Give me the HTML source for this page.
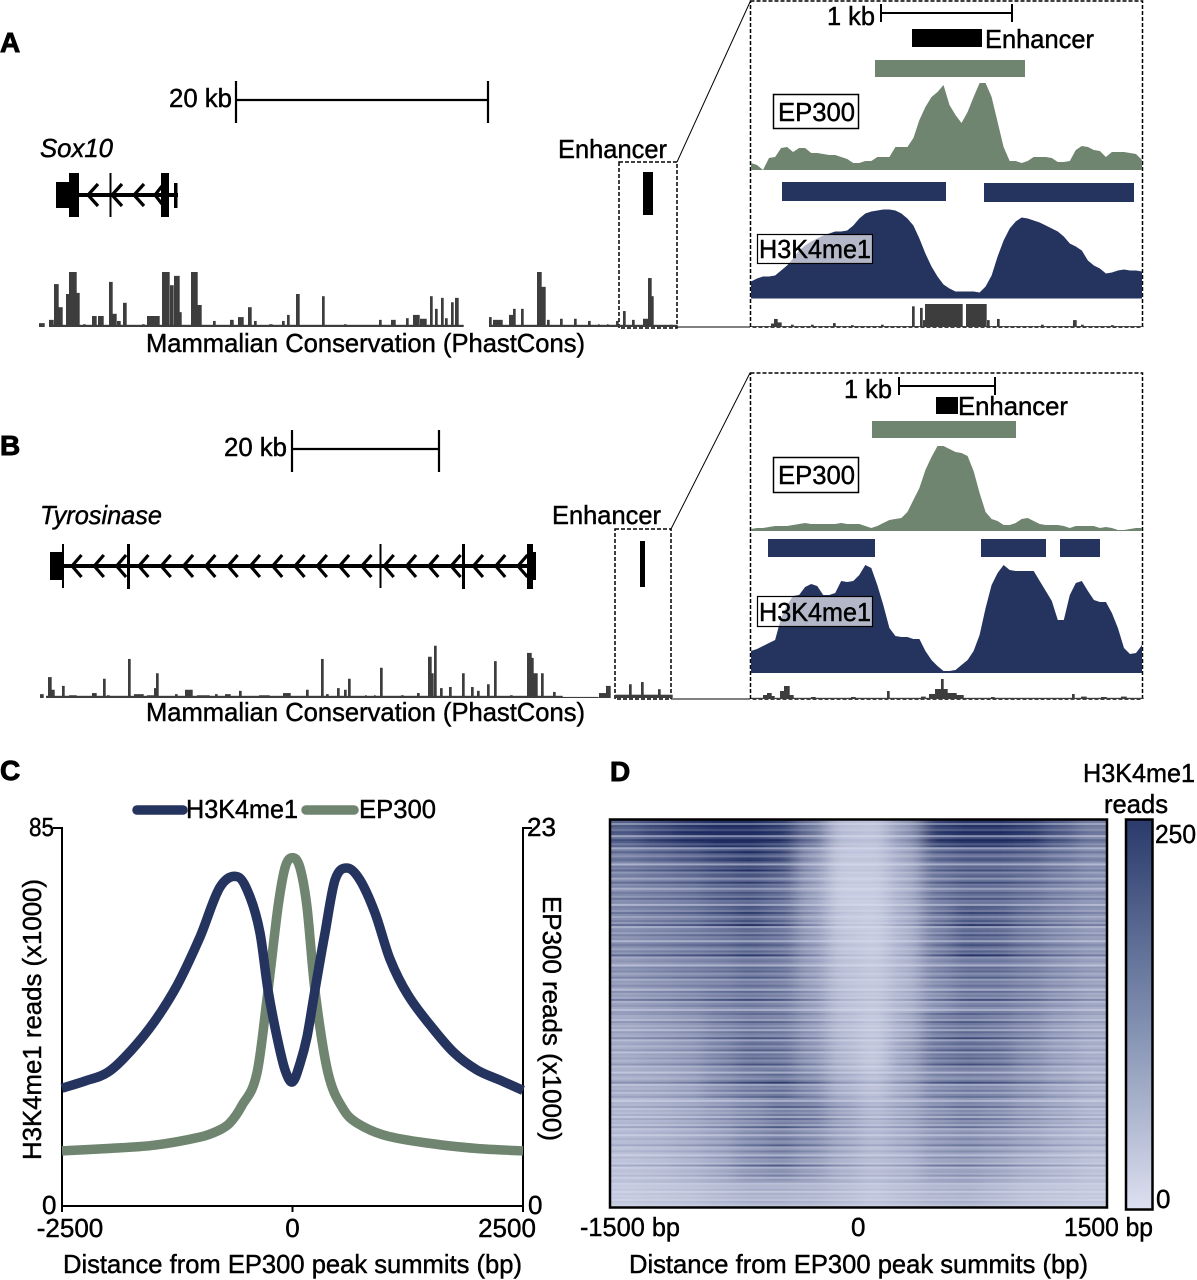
<!DOCTYPE html>
<html lang="en">
<head>
<meta charset="utf-8">
<title>Enhancer chromatin signatures figure</title>
<style>
html,body{margin:0;padding:0;background:#fff;}
svg{display:block;}
text{font-family:"Liberation Sans",Arial,sans-serif;font-size:26px;fill:#000;stroke:#000;stroke-width:.45px;}
.panel{font-size:28px;font-weight:bold;stroke-width:.9px;}
.it{font-style:italic;}
</style>
</head>
<body>
<svg id="fig" xmlns="http://www.w3.org/2000/svg" width="1197" height="1280" viewBox="0 0 1197 1280">
<defs>
<linearGradient id="cbar" x1="0" y1="0" x2="0" y2="1">
<stop offset="0" stop-color="#2a3a6b"/><stop offset=".5" stop-color="#7c8bad"/><stop offset="1" stop-color="#dde0f0"/>
</linearGradient>
<filter id="hblur" filterUnits="userSpaceOnUse" x="500" y="800" width="720" height="430"><feGaussianBlur stdDeviation="9 0"/></filter>
<clipPath id="heatclip"><rect x="611" y="820" width="495" height="387"/></clipPath>
</defs>

<text class="panel" x="0" y="52">A</text>
<text class="panel" x="0" y="455">B</text>
<text class="panel" x="0" y="780">C</text>
<text class="panel" x="610" y="781">D</text>

<!-- Panel A static -->
<g>
<text x="169" y="107" textLength="63" lengthAdjust="spacingAndGlyphs">20 kb</text>
<path d="M236 100H488M236 81V123M488 81V123" stroke="#000" stroke-width="2.200" fill="none"/>
<text class="it" x="40" y="157" textLength="73" lengthAdjust="spacingAndGlyphs">Sox10</text>
<text x="558" y="158" textLength="109" lengthAdjust="spacingAndGlyphs">Enhancer</text>
<g id="geneA">
<rect x="56" y="182" width="14" height="26" fill="#000"/><rect x="69" y="173" width="10" height="44" fill="#000"/>
<rect x="79" y="193" width="99" height="4" fill="#000"/>
<rect x="109.500" y="173" width="2" height="44" fill="#000"/><rect x="161" y="173" width="8" height="44" fill="#000"/><rect x="174" y="183" width="3.500" height="25" fill="#000"/>
<path d="M98 184L88 195L98 206M122 184L112 195L122 206M144 184L134 195L144 206M162 186L155 195L162 204" stroke="#000" stroke-width="3.200" fill="none"/>
</g>
<rect x="643" y="172" width="10" height="43" fill="#000"/>
<rect x="619" y="162" width="58" height="166" fill="none" stroke="#000" stroke-width="1.500" stroke-dasharray="4 2"/>
<path d="M677 162L750 2M677 327H750" stroke="#000" stroke-width="1" fill="none"/>
<g id="consA"></g>
<text x="146" y="352" textLength="439" lengthAdjust="spacingAndGlyphs">Mammalian Conservation (PhastCons)</text>
</g>

<!-- Inset A -->
<g>
<rect x="750.500" y="1" width="392" height="326" fill="none" stroke="#000" stroke-width="1.500" stroke-dasharray="4 2"/>
<text x="827" y="25" textLength="48" lengthAdjust="spacingAndGlyphs">1 kb</text>
<path d="M881 13H1012M881 4V22M1012 4V22" stroke="#000" stroke-width="2" fill="none"/>
<rect x="912" y="29" width="70" height="18" fill="#000"/>
<text x="985" y="48" textLength="109" lengthAdjust="spacingAndGlyphs">Enhancer</text>
<rect x="875" y="60" width="150" height="17" fill="#6f8570"/>
<g id="epA"></g>
<rect x="773.500" y="94.500" width="85" height="34" fill="#fff" stroke="#000" stroke-width="1.500"/>
<text x="778" y="121" textLength="77" lengthAdjust="spacingAndGlyphs">EP300</text>
<rect x="782" y="182" width="164" height="19" fill="#25335f"/>
<rect x="984" y="183" width="150" height="19" fill="#25335f"/>
<g id="meA"></g>
<rect x="757.500" y="234.500" width="115" height="29" fill="#fff" fill-opacity=".65" stroke="#000" stroke-width="1.200"/>
<text x="759" y="258" textLength="112" lengthAdjust="spacingAndGlyphs">H3K4me1</text>
<g id="cinA"></g>
</g>

<!-- Panel B static -->
<g>
<text x="224" y="456" textLength="63" lengthAdjust="spacingAndGlyphs">20 kb</text>
<path d="M292 449H439M292 430V472M439 430V472" stroke="#000" stroke-width="2.200" fill="none"/>
<text class="it" x="40" y="524" textLength="122" lengthAdjust="spacingAndGlyphs">Tyrosinase</text>
<text x="552" y="524" textLength="109" lengthAdjust="spacingAndGlyphs">Enhancer</text>
<g id="geneB">
<rect x="50" y="552" width="13" height="28" fill="#000"/><rect x="62" y="544" width="2" height="44" fill="#000"/>
<rect x="63" y="564" width="464" height="4" fill="#000"/>
<rect x="127" y="544" width="3" height="45" fill="#000"/><rect x="379.500" y="544" width="2" height="44" fill="#000"/><rect x="462" y="544" width="3" height="45" fill="#000"/>
<rect x="527" y="544" width="6" height="45" fill="#000"/><rect x="532" y="552" width="4" height="28" fill="#000"/>
</g>
<rect x="640" y="541" width="5" height="46" fill="#000"/>
<rect x="615" y="529" width="56" height="170" fill="none" stroke="#000" stroke-width="1.500" stroke-dasharray="4 2"/>
<path d="M671 529L750 373M671 699H750" stroke="#000" stroke-width="1" fill="none"/>
<g id="consB"></g>
<text x="146" y="721" textLength="439" lengthAdjust="spacingAndGlyphs">Mammalian Conservation (PhastCons)</text>
</g>

<!-- Inset B -->
<g>
<rect x="750.500" y="373" width="392" height="326" fill="none" stroke="#000" stroke-width="1.500" stroke-dasharray="4 2"/>
<text x="844" y="398" textLength="48" lengthAdjust="spacingAndGlyphs">1 kb</text>
<path d="M899 386H995M899 377V395M995 377V395" stroke="#000" stroke-width="2" fill="none"/>
<rect x="936" y="397" width="22" height="17" fill="#000"/>
<text x="958" y="415" textLength="110" lengthAdjust="spacingAndGlyphs">Enhancer</text>
<rect x="872" y="421" width="144" height="17" fill="#6f8570"/>
<g id="epB"></g>
<rect x="773.500" y="457.500" width="85" height="35" fill="#fff" stroke="#000" stroke-width="1.500"/>
<text x="778" y="484" textLength="77" lengthAdjust="spacingAndGlyphs">EP300</text>
<rect x="768" y="539" width="107" height="18" fill="#25335f"/>
<rect x="981" y="539" width="65" height="18" fill="#25335f"/>
<rect x="1060" y="539" width="40" height="18" fill="#25335f"/>
<g id="meB"></g>
<rect x="757.500" y="596.500" width="115" height="30" fill="#fff" fill-opacity=".65" stroke="#000" stroke-width="1.200"/>
<text x="759" y="621" textLength="112" lengthAdjust="spacingAndGlyphs">H3K4me1</text>
<g id="cinB"></g>
</g>

<!-- Panel C -->
<g>
<line x1="137" y1="810" x2="183" y2="810" stroke="#25335f" stroke-width="9.500" stroke-linecap="round"/>
<text x="186" y="818" textLength="112" lengthAdjust="spacingAndGlyphs">H3K4me1</text>
<line x1="306" y1="810" x2="354" y2="810" stroke="#6f8570" stroke-width="9.500" stroke-linecap="round"/>
<text x="359" y="818" textLength="77" lengthAdjust="spacingAndGlyphs">EP300</text>
<path d="M53 828H62V1206H523V828H532M292.500 1206V1212M62 1200V1212M523 1200V1212" fill="none" stroke="#000" stroke-width="2"/>
<text x="29" y="836" textLength="25" lengthAdjust="spacingAndGlyphs">85</text>
<text x="42" y="1214">0</text>
<text x="527" y="836" textLength="29" lengthAdjust="spacingAndGlyphs">23</text>
<text x="528" y="1214">0</text>
<g id="xticks"></g>
<text x="63" y="1273" textLength="459" lengthAdjust="spacingAndGlyphs">Distance from EP300 peak summits (bp)</text>
<text transform="translate(41 1160) rotate(-90)" textLength="281" lengthAdjust="spacingAndGlyphs">H3K4me1 reads (x1000)</text>
<text transform="translate(543 896) rotate(90)" textLength="245" lengthAdjust="spacingAndGlyphs">EP300 reads (x1000)</text>
<g id="lines"></g>
</g>

<!-- Panel D -->
<g>
<g clip-path="url(#heatclip)"><g id="heat" filter="url(#hblur)"></g></g>
<rect x="610" y="819.500" width="497" height="388" fill="none" stroke="#000" stroke-width="2.500"/>
<rect x="1126" y="819.500" width="26.500" height="390" fill="url(#cbar)" stroke="#000" stroke-width="2.500"/>
<text x="1083" y="782" textLength="112" lengthAdjust="spacingAndGlyphs">H3K4me1</text>
<text x="1104" y="813" textLength="64" lengthAdjust="spacingAndGlyphs">reads</text>
<text x="1155" y="843" textLength="41" lengthAdjust="spacingAndGlyphs">250</text>
<text x="1156" y="1208">0</text>
<text x="580" y="1236" textLength="100" lengthAdjust="spacingAndGlyphs">-1500 bp</text>
<text x="851" y="1236">0</text>
<text x="1064" y="1236" textLength="89" lengthAdjust="spacingAndGlyphs">1500 bp</text>
<text x="629" y="1273" textLength="459" lengthAdjust="spacingAndGlyphs">Distance from EP300 peak summits (bp)</text>
</g>
</svg>

<script>
// ---------- Conservation tracks: genomic bin ranges and phastCons scores ----------
const sox10ConsStart = [0,10,10,15,19,27,30,37,44,53,59,70,73,78,84,103,108,123,131,135,140,152,158,174,191,199,209,215,230,243,248,257,283,305,340,352,367,374,381,391,396,402,406,412,416,450,450,454,470,474,482,498,502,508,521,535,549,559,568,577,584,593,604,609,612,631];
const sox10ConsEnd = [5,424,14,19,23,30,37,40,46,57,64,73,77,81,87,105,120,130,134,140,142,158,162,176,194,204,212,217,233,245,250,260,285,307,342,356,369,380,387,393,398,404,408,414,419,638,452,463,474,476,484,502,506,510,523,537,551,560,569,579,586,595,609,612,614,633];
const sox10ConsScore = [.07,.04,.13,.78,.36,.6,1,.62,.05,.2,.2,.82,.24,.11,.44,.05,.2,1,.76,.93,.27,1,.4,.11,.13,.18,.36,.11,.05,.11,.22,.6,.56,.05,.13,.13,.16,.22,.15,.56,.33,.53,.16,.45,.53,.04,.18,.13,.22,.33,.33,1,.73,.13,.15,.15,.11,.05,.05,.11,.29,.13,.15,.89,.56,.04];
const tyrConsStart = [1,7,9,12,23,30,53,64,68,89,95,108,115,117,136,146,158,176,186,200,220,244,267,282,287,298,305,309,326,335,341,362,378,389,392,395,401,410,423,432,438,448,455,471,488,492,494,502,514,523,560,567,576,590,602,619];
const tyrConsEnd = [4,523,12,15,25,37,57,66,70,91,104,115,117,119,138,153,170,178,191,202,230,251,269,284,289,300,307,311,327,336,343,364,380,392,394,397,403,412,425,434,440,450,457,473,492,494,498,504,516,559,567,571,633,592,604,621];
const tyrConsScore = [.07,.04,.38,.15,.22,.05,.09,.35,.05,.71,.07,.05,.18,.45,.07,.15,.05,.07,.07,.13,.05,.09,.15,.71,.07,.18,.15,.35,.05,.05,.55,.05,.09,.75,.45,.95,.18,.2,.45,.2,.13,.25,.67,.05,.82,.73,.45,.45,.11,.02,.09,.22,.06,.25,.29,.16];
const insetConsStartA = [0,20,23,26,40,60,82,100,130,161,169,172,174,215,236,246,290,322,330,360];
const insetConsEndA = [392,23,26,30,42,62,84,102,132,163,171,174,211,235,238,248,292,325,332,362];
const insetConsScoreA = [.04,.15,.35,.2,.1,.1,.17,.08,.1,.9,.83,.3,1,1,.3,.35,.1,.3,.1,.08];
const insetConsStartB = [0,12,16,20,29,33,38,60,100,136,170,178,184,190,196,205,240,321,330,350,370];
const insetConsEndB = [392,16,20,23,33,38,42,64,104,138,174,184,196,192,205,212,243,323,335,355,375];
const insetConsScoreB = [.06,.2,.3,.15,.4,.65,.2,.1,.1,.4,.12,.25,.5,1,.3,.2,.1,.25,.12,.1,.12];

// ---------- Inset read coverage, 66 evenly spaced genomic bins ----------
const ep300SignalA = [7,5,0,12,13,22,23,18,22,22,17,17,16,15,15,13,11,7,7,9,9,13,13,13,23,23,23,32,50,63,73,78,85,65,55,47,58,73,87,87,73,48,23,9,9,7,9,13,13,13,12,8,8,9,20,24,23,20,19,13,18,18,18,17,16,10];
const h3k4me1SignalA = [17,20,22,22,23,28,33,40,48,53,57,60,63,65,67,67,68,73,80,85,87,88,89,89,88,85,80,73,60,45,32,22,14,10,7,7,7,7,6,12,23,42,58,70,77,81,80,78,76,73,70,67,62,55,52,48,38,33,30,25,26,28,29,28,28,27];
const ep300SignalB = [2,3,3,4,5,5,5,6,7,8,7,7,7,7,7,8,7,7,7,5,3,5,8,11,12,13,19,31,43,61,74,85,85,82,79,78,75,60,38,19,12,10,6,6,8,12,13,10,7,6,6,6,5,3,5,5,5,5,3,4,3,1,1,2,3,3];
const h3k4me1SignalB = [22,24,27,30,33,55,68,77,78,86,89,87,78,78,80,92,91,92,98,108,105,88,68,45,37,36,36,34,34,22,13,7,2,2,3,8,13,22,38,65,88,100,108,103,102,102,102,102,92,82,72,53,53,78,90,92,82,73,71,71,60,45,25,19,20,28];

// ---------- Panel C aggregate profile ----------
const h3k4me1Bp = [-2500,-2250,-2000,-1750,-1500,-1250,-1003,-786,-591,-461,-352,-266,-168,-81,0,81,157,244,352,461,591,732,895,1057,1250,1500,1750,2000,2250,2500];
const h3k4me1Reads = [26.5,28.1,30.1,35,41.4,49.7,60.5,71.7,74,69.5,61.4,48.6,38,30.6,27.9,32,38,48.6,61.4,73.3,76,73.3,65.9,55.5,47.5,40.5,34.5,30.6,28.3,26];
const ep300Bp = [-2500,-2000,-1500,-1000,-800,-680,-550,-385,-266,-157,-80,0,80,157,244,385,550,700,1000,1500,2000,2500];
const ep300Reads = [3.35,3.5,3.7,4.2,4.6,5.05,6.1,8.1,13.1,18.2,20.6,21.2,20.6,18.2,13.1,8.1,5.9,5.05,4.3,3.8,3.5,3.35];
const xTickLabels = ["-2500","0","2500"];
const xTickValues = [-2500,0,2500];

// ---------- Panel D heatmap: intensity per region group and column, plus per-row gain ----------
const heatBands = [
 [.62,.72,.80,.86,.86,.78,.50,.16,.14,.34,.76,.82,.82,.76,.62,.48],
 [.50,.56,.62,.70,.76,.68,.36,.12,.12,.26,.56,.62,.62,.58,.50,.42],
 [.46,.50,.54,.62,.66,.58,.32,.10,.10,.24,.52,.60,.60,.54,.46,.40],
 [.44,.48,.52,.60,.68,.58,.34,.12,.10,.24,.50,.64,.62,.52,.44,.38],
 [.42,.46,.50,.54,.60,.54,.34,.14,.10,.22,.48,.62,.60,.50,.42,.36],
 [.38,.42,.46,.50,.56,.52,.34,.16,.12,.22,.44,.54,.54,.48,.40,.34],
 [.34,.38,.42,.48,.52,.48,.34,.16,.12,.22,.40,.50,.50,.44,.36,.30],
 [.30,.34,.38,.46,.52,.50,.36,.18,.12,.26,.50,.56,.52,.44,.34,.28],
 [.28,.32,.36,.46,.56,.54,.38,.20,.12,.30,.52,.58,.54,.42,.32,.26],
 [.26,.28,.32,.42,.50,.54,.42,.24,.16,.28,.44,.48,.46,.38,.30,.24],
 [.22,.24,.28,.34,.42,.50,.46,.30,.20,.28,.40,.46,.42,.34,.28,.22],
 [.20,.22,.26,.32,.42,.48,.40,.28,.20,.26,.36,.40,.36,.30,.24,.20],
 [.16,.18,.22,.28,.38,.42,.34,.24,.18,.22,.32,.34,.30,.24,.20,.16],
 [.12,.14,.16,.20,.24,.24,.22,.18,.14,.18,.22,.24,.20,.16,.14,.12]
];
const rowGain = [1.3,1.15,.7,1.2,1.1,.95,1.25,1.2,.55,1.0,1.3,1.15,.9,1.1,.6,1.05,1.35,1.0,.85,1.2,1.25,.95,.5,1.1,1.0,1.3,.8,1.05,1.2,.7,1.0,1.4,.95,1.1,.6,.9,1.2,1.05,.85,1.3,.95,1.0,.55,1.15,1.1,.9,1.35,1.05,.75,1.0,1.2,.9,1.45,.6,1.0,1.1,.85,1.25,.95,1.05,.55,1.1,1.3,1.0,.8,1.15,.95,1.55,.7,1.0,1.1,.9,.5,1.2,1.05,1.25,.85,1.0,1.35,.7,1.0,.9,1.15,1.05,.6,1.3,.95,1.1,.85,1.6,.75,1.0,1.15,.9,.55,1.1,1.25,.95,1.0,.7,1.35,1.05,.85,1.1,.6,1.2,1.0,.9,1.5,.65,1.05,1.15,.8,1.0,1.3,.6,1.1,.95,1.2,.85,1.0,1.4,.7,.95,1.1,.55,1.25,1.0,.85,1.15,1.7,.6,1.0,.9,1.2,.7,1.05,1.3,.9,.55,1.1,1.0,1.45,.75,1.05,.9,1.2,.65,1.35,.95,1.1,.8,1.6,.7,1.0,1.15,.55,1.05,1.25,.9,1.0,1.5,.7,.85,1.2,1.0,.6,1.4,.95,1.05,.75,1.8,.65,1.0,1.1,.85,1.3,.6,1.0,1.5,.75,1.0,.9,1.2,.6,1.1,.85,1.0,.7,1.15,.9,.65];

const NS = "http://www.w3.org/2000/svg";
function mk(tag, parent, attrs) {
  const el = document.createElementNS(NS, tag);
  for (const k in attrs) el.setAttribute(k, attrs[k]);
  parent.appendChild(el);
  return el;
}
const $ = id => document.getElementById(id);

// Conservation bars
function drawCons(parent, starts, ends, scores, originX, baseY, fullHeight) {
  const xScale = b => originX + b;
  const yScale = s => baseY - s * fullHeight;
  starts.forEach((s, i) => {
    const bar = mk("rect", parent, {x: xScale(s), y: yScale(scores[i]), width: xScale(ends[i]) - xScale(s) + .7, height: baseY - yScale(scores[i]), fill: "#3d3d3d"});
    
    
  });
}
drawCons($("consA"), sox10ConsStart, sox10ConsEnd, sox10ConsScore, 39, 327, 55);
drawCons($("consB"), tyrConsStart, tyrConsEnd, tyrConsScore, 39, 698, 55);
drawCons($("cinA"), insetConsStartA, insetConsEndA, insetConsScoreA, 751, 327, 23);
drawCons($("cinB"), insetConsStartB, insetConsEndB, insetConsScoreB, 751, 699, 20);

// Inset signal areas
function drawSignal(parent, values, baseY, color) {
  const binX = i => 751 + i * 391 / (values.length - 1);
  const y = v => baseY - v;
  let d = "M" + binX(0) + " " + baseY;
  values.forEach((v, i) => { d += "L" + binX(i).toFixed(1) + " " + y(v).toFixed(1); });
  d += "L" + binX(values.length - 1) + " " + baseY + "Z";
  const area = mk("path", parent, {d: d, fill: color});
  
  
}
drawSignal($("epA"), ep300SignalA, 170, "#6f8570");
drawSignal($("meA"), h3k4me1SignalA, 298.5, "#25335f");
drawSignal($("epB"), ep300SignalB, 531, "#6f8570");
drawSignal($("meB"), h3k4me1SignalB, 673, "#25335f");

// Tyrosinase chevrons
for (let k = 0; k < 21; k++) {
  const cx = 72 + k * 22.3;
  const chev = mk("path", $("geneB"), {d: "M" + (cx + 9.5) + " 555L" + cx + " 566L" + (cx + 9.5) + " 577", fill: "none", stroke: "#000", "stroke-width": 3.2});
  
  
}

// Panel C
const bpX = bp => 292.5 + bp * 461 / 5000;
const leftY = v => 1206 - v * 378 / 85;
const rightY = v => 1206 - v * 378 / 23;
function smoothPath(xs, ys) {
  const n = xs.length;
  let d = "M" + bpX(xs[0]).toFixed(1) + " " + ys[0].toFixed(1);
  for (let i = 0; i < n - 1; i++) {
    const x0 = bpX(xs[Math.max(i - 1, 0)]), x1 = bpX(xs[i]), x2 = bpX(xs[i + 1]), x3 = bpX(xs[Math.min(i + 2, n - 1)]);
    const y0 = ys[Math.max(i - 1, 0)], y1 = ys[i], y2 = ys[i + 1], y3 = ys[Math.min(i + 2, n - 1)];
    const t = (x2 - x1) / 3;
    const m1 = (y2 - y0) / Math.max(x2 - x0, .01), m2 = (y3 - y1) / Math.max(x3 - x1, .01);
    d += "C" + (x1 + t).toFixed(1) + " " + (y1 + m1 * t).toFixed(1) + " " + (x2 - t).toFixed(1) + " " + (y2 - m2 * t).toFixed(1) + " " + x2.toFixed(1) + " " + y2.toFixed(1);
  }
  return d;
}
const ep300Line = mk("path", $("lines"), {d: smoothPath(ep300Bp, ep300Reads.map(rightY)), fill: "none", stroke: "#6f8570", "stroke-width": 9.5, "stroke-linejoin": "round"});


const h3k4me1Line = mk("path", $("lines"), {d: smoothPath(h3k4me1Bp, h3k4me1Reads.map(leftY)), fill: "none", stroke: "#25335f", "stroke-width": 9.5, "stroke-linejoin": "round"});


xTickLabels.forEach((label, i) => {
  const tx = bpX(xTickValues[i]) + (i === 0 ? 8 : i === 2 ? -16 : 0);
  const tick = mk("text", $("xticks"), {x: tx, y: 1237, "text-anchor": "middle"});
  tick.textContent = label;
  
  
});

// Panel D
const heatRows = rowGain.length;
const heatCols = heatBands[0].length;
const heatColor = t => {
  const c = Math.max(0, Math.min(1, t));
  const lo = [220, 224, 241], hi = [30, 44, 96];
  return "rgb(" + lo.map((l, k) => Math.round(l + (hi[k] - l) * c)).join(",") + ")";
};
const cellW = 497 / heatCols, cellH = 388 / heatRows;
for (let r = 0; r < heatRows; r++) {
  const band = heatBands[Math.min(heatBands.length - 1, Math.floor(r * heatBands.length / heatRows))];
  for (let c = 0; c < heatCols; c++) {
    const left = c === 0 ? 520 : 610 + c * cellW;
    const right = c === heatCols - 1 ? 1200 : 610 + (c + 1) * cellW;
    const cell = mk("rect", $("heat"), {x: left.toFixed(1), y: (819 + r * cellH).toFixed(2), width: (right - left + .5).toFixed(1), height: (cellH + .3).toFixed(2), fill: heatColor(band[c] * rowGain[r])});
    
    
  }
}
</script>
</body>
</html>
